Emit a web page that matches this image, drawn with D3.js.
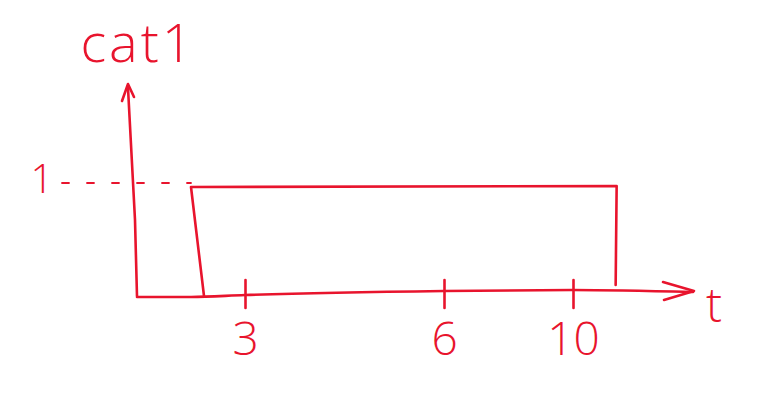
<!DOCTYPE html>
<html>
<head>
<meta charset="utf-8">
<script src="https://cdn.jsdelivr.net/npm/d3@7"></script>
<style>
  html, body { margin: 0; padding: 0; background: #fff; }
  svg { display: block; }
  text { font-family: "Open Sans", "DejaVu Sans", sans-serif; font-weight: 300; fill: #e8142d; }
</style>
</head>
<body>
<svg id="chart" width="771" height="413"></svg>
<script>
// ---- data ----
const seriesName = "cat1";
const xLabel = "t";
const xTicks = [3, 6, 10];
const yTicks = [1];
const stepStart = [1.5];   // t where the value rises to 1
const stepEnd = [11.35];   // t where the value falls back to 0
const stepValue = [1];

// ---- drawing ----
const color = "#e8142d";
const svg = d3.select("#chart");

// sketch has uneven spacing between the hand-placed ticks -> piecewise scale
const x = d3.scaleLinear().domain([0, 3, 6, 10, 13]).range([137, 245, 444, 573, 670]);
const y = d3.scaleLinear().domain([0, 1]).range([296, 187]);

const g = svg.append("g")
  .attr("fill", "none")
  .attr("stroke", color)
  .attr("stroke-width", 2.6)
  .attr("stroke-linecap", "round")
  .attr("stroke-linejoin", "round");

// x axis line + arrow
g.append("path").attr("d", d3.line().curve(d3.curveMonotoneX)([[x(0), y(0) + 1], [x(1.5), y(0) + 1], [x(3), y(0) - 1], [x(6), y(0) - 5], [x(10), y(0) - 6], [693, y(0) - 4]]));
g.append("path").attr("d", `M663,282 L694,291 L664,300`);

// y axis line + arrow
g.append("path").attr("d", `M${x(0)},${y(0)} L${x(0) - 2},220 L${x(0) - 9},88`);
g.append("path").attr("d", `M122,101 L128,84 L134,97`);

// step (rectangle)
stepStart.forEach((s, i) => {
  const e = stepEnd[i], v = stepValue[i];
  g.append("path").attr("d",
    `M${x(s) + 13},${y(0)} L${x(s)},${y(v)} L${x(e)},${y(v) - 1} L${x(e) - 1},${y(0) - 11}`);
});

// y tick: dashed guide to the step
yTicks.forEach(v => {
  g.append("line")
    .attr("x1", 62).attr("x2", x(stepStart[0]))
    .attr("y1", y(v) - 4).attr("y2", y(v) - 4)
    .attr("stroke-width", 1.8)
    .attr("stroke-dasharray", "7,18");
  svg.append("text")
    .attr("x", 42).attr("y", y(v) + 6)
    .attr("text-anchor", "middle")
    .attr("font-size", 40)
    .text(v);
});

// x axis ticks via d3 axis
const axis = d3.axisBottom(x).tickValues(xTicks).tickSize(28).tickFormat(d3.format("d"));
const ax = svg.append("g").attr("transform", `translate(0,${y(0) - 16})`).call(axis);
ax.select(".domain").remove();
ax.selectAll(".tick line").attr("stroke", color).attr("stroke-width", 2.6).attr("stroke-linecap", "round");
ax.selectAll(".tick text")
  .attr("y", 0).attr("dy", 0)
  .attr("transform", "translate(0,75)")
  .attr("font-size", 46)
  .attr("font-family", null)
  .attr("fill", color);

// axis title and series name
svg.append("text").attr("x", 714).attr("y", 322).attr("text-anchor", "middle").attr("font-size", 48).text(xLabel);
svg.append("text").attr("x", 138).attr("y", 62).attr("text-anchor", "middle").attr("font-size", 54)
  .attr("letter-spacing", 3).text(seriesName);
</script>
</body>
</html>
